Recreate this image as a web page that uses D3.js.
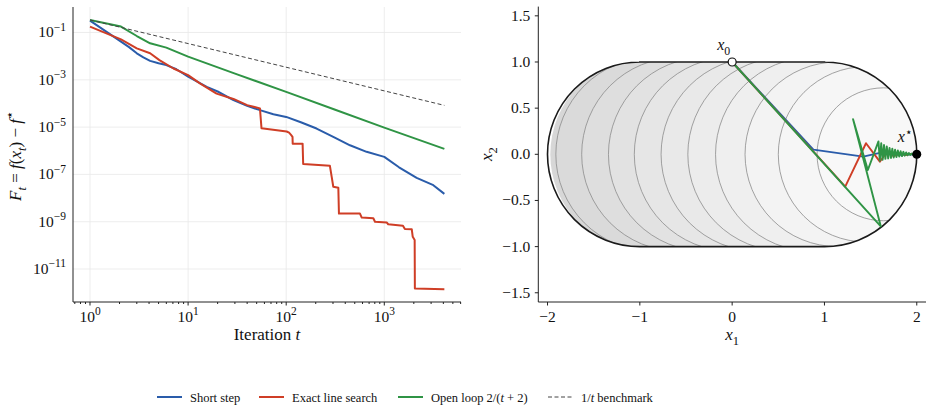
<!DOCTYPE html>
<html lang="en">
<head>
<meta charset="utf-8">
<script src="https://cdnjs.cloudflare.com/ajax/libs/d3/7.8.5/d3.min.js"></script>
<style>
  body { margin: 0; background: #fff; }
  svg text { font-family: "Liberation Serif", "DejaVu Serif", serif; fill: #111; }
  .grid line { stroke: #e8e8e8; stroke-width: 0.8; }
  .axis path, .axis line { stroke: #222; stroke-width: 1; }
</style>
</head>
<body>
<svg id="chart" width="933" height="412"></svg>
<script>
// ---- left panel: primal gap per iteration ----
const shortT   = [1, 2.07, 2.5, 3, 3.5, 4.1, 5, 6, 7.6, 10, 15.5, 20, 29, 40, 54, 74, 100, 141, 204, 302, 447, 660, 1000, 1413, 2138, 3162, 4096];
const shortGap = [0.316, 0.041, 0.024, 0.0132, 8.9e-3, 6.3e-3, 5.0e-3, 4.2e-3, 2.8e-3, 1.35e-3, 5.0e-4, 3.2e-4, 1.38e-4, 7.9e-5, 5.2e-5, 3.5e-5, 2.7e-5, 1.6e-5, 8.7e-6, 3.9e-6, 1.7e-6, 9.0e-7, 5.5e-7, 2.0e-7, 7.1e-8, 3.5e-8, 1.5e-8];

const exactT   = [1, 2.07, 3, 4.1, 5.1, 7.1, 10, 13.2, 19.5, 29, 40, 54, 56, 101, 107, 112, 116, 116.5, 147, 149, 279, 291, 302, 340, 345, 565, 589, 773, 804, 1057, 1096, 1549, 1622, 1905, 1950, 2040, 2050, 4096];
const exactGap = [0.178, 0.0513, 0.0214, 0.0132, 6.8e-3, 3.0e-3, 1.58e-3, 7.1e-4, 2.6e-4, 1.55e-4, 8.5e-5, 6.2e-5, 8.9e-6, 6.5e-6, 5.8e-6, 4.7e-6, 3.9e-6, 2.0e-6, 2.0e-6, 2.75e-7, 2.3e-7, 7.9e-8, 3.0e-8, 2.75e-8, 2.2e-9, 2.2e-9, 1.5e-9, 1.4e-9, 1.0e-9, 9.3e-10, 7.8e-10, 6.8e-10, 4.9e-10, 4.8e-10, 2.3e-10, 1.7e-10, 1.5e-12, 1.4e-12];

const openT   = [1, 2.07, 3, 4.1, 6, 10, 31.6, 100, 316, 1000, 4096];
const openGap = [0.34, 0.178, 0.071, 0.035, 0.023, 9.5e-3, 1.7e-3, 3.1e-4, 5.4e-5, 9.5e-6, 1.2e-6];

const benchT   = [1, 4096];
const benchGap = [0.34, 8.3e-5];

const xTicksLeft = [1, 10, 100, 1000];
const yTicksLeft = [1e-1, 1e-3, 1e-5, 1e-7, 1e-9, 1e-11];

// ---- right panel: iterates in the plane ----
// contours of f: circle arcs given by their left crossing of x2 = 0 and radius
const contourX0 = [-1.97, -1.91, -1.63, -1.34, -1.06, -0.77, -0.48, -0.18, 0.14, 0.50, 0.92];
const contourR  = [1.05, 1.05, 1.05, 1.05, 1.05, 1.05, 1.05, 1.05, 1.0, 0.95, 0.72];
const bandGrey  = ["#d7d7d7", "#dadada", "#dedede", "#e2e2e2", "#e6e6e6", "#e9e9e9", "#ececec", "#efefef", "#f3f3f3", "#f6f6f6", "#f8f8f8"];

const shortPath = [[0, 1], [0.88, 0.05], [1.42, -0.025], [1.60, 0.015], [1.80, -0.005], [2, 0]];
const exactPath = [[0, 1], [1.225, -0.35], [1.45, 0.12], [1.60, -0.08], [1.68, 0.03], [1.75, -0.02], [1.82, 0.012], [1.88, -0.008], [1.93, 0.005], [1.97, -0.002], [2, 0]];
const openPath  = [[0, 1], [1.61, -0.78], [1.31, 0.38], [1.47, -0.17], [1.585, 0.14], [1.60, -0.07], [1.615, 0.12], [1.63, -0.06], [1.645, 0.10], [1.66, -0.05], [1.675, 0.085], [1.69, -0.045], [1.705, 0.07], [1.72, -0.04], [1.735, 0.06], [1.75, -0.035], [1.765, 0.05], [1.78, -0.03], [1.795, 0.042], [1.81, -0.025], [1.825, 0.034], [1.84, -0.02], [1.855, 0.027], [1.87, -0.015], [1.885, 0.02], [1.90, -0.011], [1.915, 0.014], [1.93, -0.007], [1.945, 0.008], [1.96, -0.004], [2, 0]];
const xStart = [0, 1];
const xOpt = [2, 0];

const xTicksRight = [-2, -1, 0, 1, 2];
const yTicksRight = [-1.5, -1.0, -0.5, 0.0, 0.5, 1.0, 1.5];

const colors = { short: "#2a5caa", exact: "#cf3e26", open: "#2f9445", bench: "#444" };

const svg = d3.select("#chart");

// small helper for math-ish labels made of pieces
function rich(text, parts, size) {
  let shift = 0;
  parts.forEach(p => {
    const want = p.sub ? 0.3 * size : p.sup ? -0.42 * size : 0;
    const ts = text.append("tspan").text(p.t);
    if (want !== shift) ts.attr("dy", want - shift);
    shift = want;
    if (p.i) ts.attr("font-style", "italic");
    if (p.sub || p.sup) ts.attr("font-size", size * 0.74);
  });
}
const minus = v => (v < 0 ? "\u2212" : "") + Math.abs(v);

// ================= left panel =================
const xL = d3.scaleLog().domain([0.671, 6053]).range([73, 461]);
const yL = d3.scaleLog().domain([Math.pow(10, -12.395), Math.pow(10, 0.078)]).range([302, 7]);

const gridL = svg.append("g").attr("class", "grid");
gridL.selectAll(".gx").data(xTicksLeft).enter().append("line")
  .attr("x1", d => xL(d)).attr("x2", d => xL(d)).attr("y1", 7).attr("y2", 302);
gridL.selectAll(".gy").data(yTicksLeft).enter().append("line")
  .attr("x1", 73).attr("x2", 461).attr("y1", d => yL(d)).attr("y2", d => yL(d));

const minorX = [];
[0.1, 1, 10, 100, 1000].forEach(dec => d3.range(2, 10).forEach(m => {
  const v = dec * m;
  if (v > 0.671 && v < 6053) minorX.push(v);
}));

const xAxisL = svg.append("g").attr("class", "axis").attr("transform", "translate(0,302)");
xAxisL.append("line").attr("x1", 73).attr("x2", 461);
xAxisL.selectAll(".mj").data(xTicksLeft).enter().append("line")
  .attr("x1", d => xL(d)).attr("x2", d => xL(d)).attr("y1", 0).attr("y2", 3.5);
xAxisL.selectAll(".mn").data(minorX).enter().append("line")
  .attr("x1", d => xL(d)).attr("x2", d => xL(d)).attr("y1", 0).attr("y2", 2)
  .attr("stroke-width", 0.8);
xAxisL.selectAll("text").data(xTicksLeft).enter().append("text")
  .attr("x", d => xL(d)).attr("y", 20).attr("text-anchor", "middle").attr("font-size", 15.5)
  .each(function (d) { rich(d3.select(this), [{ t: "10" }, { t: minus(Math.round(Math.log10(d))), sup: true }], 15.5); });

svg.append("line").attr("class", "axis").attr("x1", 73).attr("x2", 73).attr("y1", 7).attr("y2", 302)
  .attr("stroke", "#222");
svg.append("g").selectAll("text").data(yTicksLeft).enter().append("text")
  .attr("x", 66).attr("y", d => yL(d) + 5).attr("text-anchor", "end").attr("font-size", 15.5)
  .each(function (d) { rich(d3.select(this), [{ t: "10" }, { t: minus(Math.round(Math.log10(d))), sup: true }], 15.5); });

const lineL = d3.line().x(d => xL(d[0])).y(d => yL(d[1]));
const seriesL = [
  { t: shortT, v: shortGap, c: colors.short },
  { t: exactT, v: exactGap, c: colors.exact },
  { t: openT, v: openGap, c: colors.open }
];
seriesL.forEach(s => {
  svg.append("path").datum(d3.zip(s.t, s.v)).attr("d", lineL)
    .attr("fill", "none").attr("stroke", s.c).attr("stroke-width", 2).attr("stroke-linejoin", "round");
});
svg.append("path").datum(d3.zip(benchT, benchGap)).attr("d", lineL)
  .attr("fill", "none").attr("stroke", colors.bench).attr("stroke-width", 1).attr("stroke-dasharray", "4,2.5");

svg.append("text").attr("x", 267).attr("y", 340).attr("text-anchor", "middle").attr("font-size", 17)
  .call(t => rich(t, [{ t: "Iteration " }, { t: "t", i: true }], 17));
svg.append("text").attr("transform", "translate(21,156) rotate(-90)").attr("text-anchor", "middle").attr("font-size", 17)
  .call(t => rich(t, [{ t: "F", i: true }, { t: "t", i: true, sub: true }, { t: " = " }, { t: "f", i: true }, { t: "(" },
    { t: "x", i: true }, { t: "t", i: true, sub: true }, { t: ") \u2212 " }, { t: "f", i: true }, { t: "\u22C6", sup: true }], 17));

// ================= right panel =================
const xR = d3.scaleLinear().domain([-2.1, 2.1]).range([538.3, 926]);
const yR = d3.scaleLinear().domain([-1.6, 1.6]).range([302, 6.6]);
const unit = xR(1) - xR(0);

const stadium = d3.path();
stadium.moveTo(xR(-1), yR(1));
stadium.lineTo(xR(1), yR(1));
stadium.arc(xR(1), yR(0), unit, -Math.PI / 2, Math.PI / 2);
stadium.lineTo(xR(-1), yR(-1));
stadium.arc(xR(-1), yR(0), unit, Math.PI / 2, 3 * Math.PI / 2);
stadium.closePath();

svg.append("defs").append("clipPath").attr("id", "setclip")
  .append("path").attr("d", stadium.toString());

const field = svg.append("g").attr("clip-path", "url(#setclip)");
field.append("path").attr("d", stadium.toString()).attr("fill", "#fff");

function arcShape(x0, r, closed) {
  const cx = xR(x0 + r), cy = yR(0), rp = r * unit;
  const p = d3.path();
  if (r < 1) {
    p.moveTo(cx + rp, cy);
    p.arc(cx, cy, rp, 0, 2 * Math.PI);
    if (closed) p.closePath();
    return p.toString();
  }
  p.moveTo(cx, cy - rp);
  p.arc(cx, cy, rp, -Math.PI / 2, Math.PI / 2, true);
  if (closed) {
    p.lineTo(xR(3), cy + rp);
    p.lineTo(xR(3), cy - rp);
    p.closePath();
  }
  return p.toString();
}

contourX0.forEach((x0, i) => {
  field.append("path").attr("d", arcShape(x0, contourR[i], true)).attr("fill", bandGrey[i]);
});
contourX0.forEach((x0, i) => {
  if (i === 0) return;
  field.append("path").attr("d", arcShape(x0, contourR[i], false))
    .attr("fill", "none").attr("stroke", "#8c8c8c").attr("stroke-width", 0.8);
});

svg.append("path").attr("d", stadium.toString()).attr("fill", "none").attr("stroke", "#1a1a1a").attr("stroke-width", 1.6);

const lineR = d3.line().x(d => xR(d[0])).y(d => yR(d[1]));
[[shortPath, colors.short], [exactPath, colors.exact], [openPath, colors.open]].forEach(([pts, c]) => {
  svg.append("path").datum(pts).attr("d", lineR).attr("fill", "none")
    .attr("stroke", c).attr("stroke-width", 1.9).attr("stroke-linejoin", "round");
});

svg.append("circle").attr("cx", xR(xStart[0])).attr("cy", yR(xStart[1])).attr("r", 4)
  .attr("fill", "#fff").attr("stroke", "#111").attr("stroke-width", 1.2);
svg.append("circle").attr("cx", xR(xOpt[0])).attr("cy", yR(xOpt[1])).attr("r", 4.5).attr("fill", "#000");

svg.append("text").attr("x", xR(xStart[0]) - 15).attr("y", yR(xStart[1]) - 12).attr("font-size", 16)
  .call(t => rich(t, [{ t: "x", i: true }, { t: "0", sub: true }], 16));
svg.append("text").attr("x", xR(xOpt[0]) - 19).attr("y", yR(xOpt[1]) - 12).attr("font-size", 16)
  .call(t => rich(t, [{ t: "x", i: true }, { t: "\u22C6", sup: true }], 16));

// axes
const xAxisR = svg.append("g").attr("class", "axis").attr("transform", "translate(0,302)");
xAxisR.append("line").attr("x1", 538.3).attr("x2", 926);
xAxisR.selectAll(".tk").data(xTicksRight).enter().append("line")
  .attr("x1", d => xR(d)).attr("x2", d => xR(d)).attr("y1", 0).attr("y2", 3.5);
xAxisR.selectAll("text").data(xTicksRight).enter().append("text")
  .attr("x", d => xR(d)).attr("y", 20).attr("text-anchor", "middle").attr("font-size", 15.5)
  .text(d => minus(d));

const yAxisR = svg.append("g").attr("class", "axis").attr("transform", "translate(538.3,0)");
yAxisR.append("line").attr("y1", 6.6).attr("y2", 302);
yAxisR.selectAll(".tk").data(yTicksRight).enter().append("line")
  .attr("x1", -3.5).attr("x2", 0).attr("y1", d => yR(d)).attr("y2", d => yR(d));
yAxisR.selectAll("text").data(yTicksRight).enter().append("text")
  .attr("x", -8).attr("y", d => yR(d) + 5).attr("text-anchor", "end").attr("font-size", 15.5)
  .text(d => (d < 0 ? "\u2212" : "") + Math.abs(d).toFixed(1));

svg.append("text").attr("x", (538.3 + 926) / 2).attr("y", 340).attr("text-anchor", "middle").attr("font-size", 17)
  .call(t => rich(t, [{ t: "x", i: true }, { t: "1", sub: true }], 17));
svg.append("text").attr("transform", "translate(492,154) rotate(-90)").attr("text-anchor", "middle").attr("font-size", 17)
  .call(t => rich(t, [{ t: "x", i: true }, { t: "2", sub: true }], 17));

// ================= legend =================
const legendItems = [
  { x: 157, c: colors.short, dash: null, parts: [{ t: "Short step" }] },
  { x: 259, c: colors.exact, dash: null, parts: [{ t: "Exact line search" }] },
  { x: 398, c: colors.open, dash: null, parts: [{ t: "Open loop 2/(" }, { t: "t", i: true }, { t: " + 2)" }] },
  { x: 548, c: colors.bench, dash: "4,2.5", parts: [{ t: "1/" }, { t: "t", i: true }, { t: " benchmark" }] }
];
const legend = svg.append("g").attr("transform", "translate(0,397)");
legendItems.forEach(it => {
  legend.append("line").attr("x1", it.x).attr("x2", it.x + 25).attr("y1", 0).attr("y2", 0)
    .attr("stroke", it.c).attr("stroke-width", it.dash ? 1 : 2).attr("stroke-dasharray", it.dash);
  legend.append("text").attr("x", it.x + 33).attr("y", 4.5).attr("font-size", 12.5)
    .call(t => rich(t, it.parts, 12.5));
});
</script>
</body>
</html>
